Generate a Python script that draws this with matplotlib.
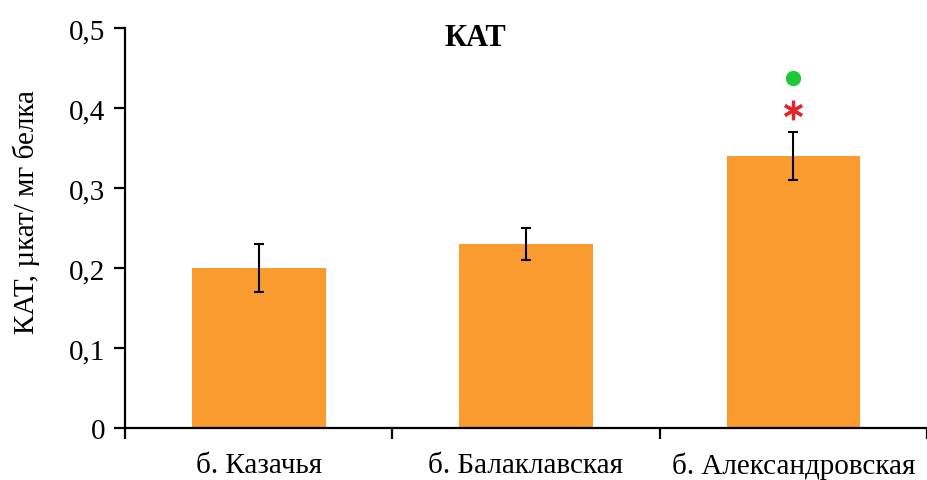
import matplotlib
matplotlib.use("Agg")
import matplotlib.pyplot as plt
from matplotlib.ticker import FuncFormatter, FixedLocator
import numpy as np

categories = ["б. Казачья", "б. Балаклавская", "б. Александровская"]
values = [0.20, 0.23, 0.34]
errors = [0.03, 0.02, 0.03]
mark_dot = 0.438      # green marker above third bar
mark_star = 0.397     # red asterisk above third bar

plt.rcParams["font.family"] = ["Liberation Serif", "DejaVu Serif"]

fig = plt.figure(figsize=(9.27, 4.81), dpi=100)
ax = fig.add_axes([125 / 927, 1 - 429 / 481, 802 / 927, (429 - 29) / 481])

x = np.arange(len(categories))
bar_color = "#FA9B2F"
ax.bar(x, values, width=0.5, color=bar_color, zorder=2)
ax.errorbar(x, values, yerr=errors, fmt="none", ecolor="black",
            elinewidth=1.5, capsize=3.6, capthick=1.5, zorder=3)

ax.plot([x[2]], [mark_dot], "o", color="#1FC73A", markersize=10, zorder=4)
ax.plot([x[2]], [mark_star], marker=(6, 2, 0), color="#E8242A",
        markersize=14, markeredgewidth=2.3, linestyle="none", zorder=4)

ax.set_xlim(-0.5, 2.5)
ax.set_ylim(0, 0.5)
ax.set_yticks(np.arange(0, 0.51, 0.1))
ax.yaxis.set_major_formatter(FuncFormatter(
    lambda v, p: "0" if abs(v) < 1e-9 else f"{v:.1f}".replace(".", ",")))
ax.xaxis.set_major_locator(FixedLocator([-0.5, 0.5, 1.5, 2.5]))
ax.xaxis.set_major_formatter(FuncFormatter(lambda v, p: ""))
ax.set_xticks(x, minor=True)
ax.set_xticklabels(categories, minor=True)
ax.tick_params(axis="x", which="minor", length=0, pad=17, labelsize=21)
ax.tick_params(axis="x", which="major", length=8, width=1.6, direction="out")
ax.tick_params(axis="y", length=8, width=1.6, direction="out", labelsize=21, pad=6)

for s in ["top", "right"]:
    ax.spines[s].set_visible(False)
for s in ["left", "bottom"]:
    ax.spines[s].set_linewidth(1.6)

fig.text(26 / 927, 1 - 212 / 481, "КАТ, µкат/ мг белка", fontsize=21,
         rotation=90, ha="center", va="center")
fig.text(475 / 927, 1 - 38 / 481, "КАТ", fontsize=22, fontweight="bold",
         ha="center", va="center")

fig.savefig("out.png", dpi=100)
